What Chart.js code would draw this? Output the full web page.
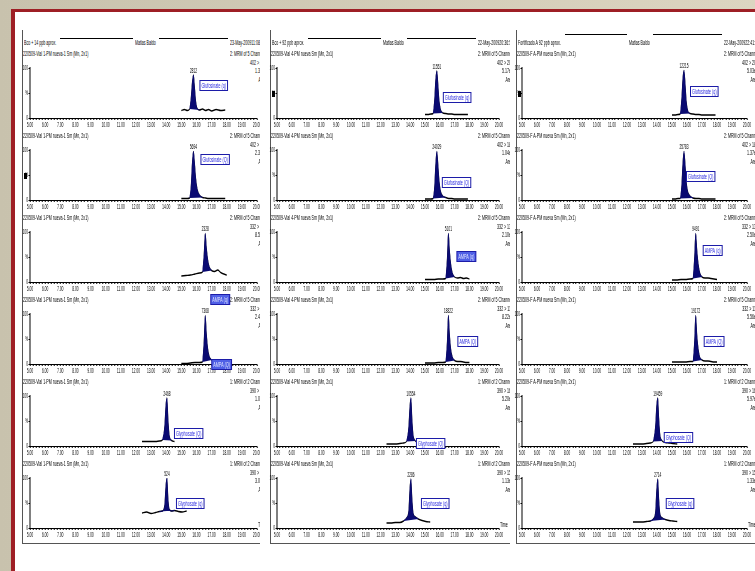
<!DOCTYPE html>
<html>
<head>
<meta charset="utf-8">
<title>Cromatogramas MRM - Glifosato, AMPA, Glufosinato</title>
<script src="https://cdn.jsdelivr.net/npm/chart.js@4.4.1/dist/chart.umd.min.js"></script>
<style>
    html, body { margin: 0; padding: 0; }
    body {
        width: 755px; height: 571px; overflow: hidden; position: relative;
        background: linear-gradient(90deg, #c8c2ad, #dcd5c1);
        font-family: "Liberation Sans", Arial, sans-serif;
    }
    #sheet {
        position: absolute; left: 11px; top: 9px; width: 760px; height: 580px;
        background: #fff; border-left: 4px solid #9e1f25; border-top: 3px solid #9e1f25;
    }
    .clip { position: absolute; top: 0; height: 571px; overflow: hidden; }
    .frame { position: absolute; border-left: 1px solid #555; border-bottom: 1px solid #555; }
    .txt {
        position: absolute; white-space: nowrap; font-size: 8px; line-height: 8px; color: #000;
        transform-origin: 0 0; transform: scaleX(0.45);
    }
    .txt.right { transform: scaleX(0.45) translateX(-100%); }
    .hline { position: absolute; height: 0; border-top: 1px solid #000; }
    .mark { position: absolute; width: 3px; height: 6px; background: #000; }
    canvas { position: absolute; }
</style>
</head>
<body>
<div id="sheet"></div>
<script>
const columnTitles = ['Bco + 14 ppb aprox.', 'Bco + 92 ppb aprox.', 'Fortificado A 92 ppb aprox.'];
const columnDates = ['23-May-200911:08:16', '22-May-200920:36:56', '22-May-200922:41:12'];
const sampleNames = ['220509-Vial 1-PM nueva-1 Sm (Mn, 2x1)', '220509-Vial 4-PM nueva Sm (Mn, 2x1)', '220509-F A-PM nueva Sm (Mn, 2x1)'];
const operatorName = 'Matias Baldo';

const compounds = ['Glufosinate (q)', 'Glufosinate (Q)', 'AMPA (q)', 'AMPA (Q)', 'Glyphosate (Q)', 'Glyphosate (q)'];
const functionNames = ['2: MRM of 5 Channels ES-', '2: MRM of 5 Channels ES-', '2: MRM of 5 Channels ES-',
    '2: MRM of 5 Channels ES-', '1: MRM of 2 Channels ES-', '1: MRM of 2 Channels ES-'];
const transitions = ['402 > 206', '402 > 180', '332 > 136', '332 > 110', '390 > 168', '390 > 150'];
const peakAreas = [
    ['1.30e3', '5.17e3', '5.03e3'],
    ['2.34e3', '1.04e4', '1.37e4'],
    ['8.58e2', '2.10e3', '2.50e3'],
    ['2.47e3', '8.22e3', '5.56e3'],
    ['1.02e3', '5.20e3', '5.97e3'],
    ['3.00e2', '1.13e3', '1.33e3']
];
const peakHeights = [
    [2812, 11551, 12215],
    [5694, 24029, 25783],
    [2328, 5101, 9491],
    [7368, 18822, 19172],
    [2468, 10554, 19459],
    [524, 2286, 2714]
];

// retention time (min) of the trace points
const timeGluf = [15.00, 15.20, 15.40, 15.55, 15.65, 15.72, 15.80, 15.88, 15.95, 16.05, 16.20, 16.40, 16.60, 16.80, 17.00, 17.30, 17.60, 17.90];
const timeAmpa = [15.00, 15.30, 15.60, 15.90, 16.20, 16.40, 16.50, 16.58, 16.66, 16.75, 16.85, 17.00, 17.20, 17.40, 17.60, 17.80, 18.00];
const timeGly = [12.40, 12.70, 13.00, 13.30, 13.55, 13.75, 13.90, 13.98, 14.05, 14.12, 14.20, 14.35, 14.55, 14.80, 15.05, 15.35];

// relative intensity (%) per screen
const glufqVial1 = [15, 17, 15, 18, 42, 70, 86, 60, 34, 19, 16, 18, 15, 17, 14, 17, 15, 16];
const glufqVial4 = [7, 7, 8, 9, 38, 76, 94, 66, 36, 17, 10, 9, 8, 8, 7, 7, 7, 7];
const glufqFortA = [6, 6, 7, 8, 40, 78, 95, 68, 35, 15, 9, 8, 7, 7, 6, 6, 6, 6];
const glufQVial1 = [3, 3, 3, 4, 30, 72, 97, 72, 44, 22, 10, 5, 4, 3, 3, 3, 3, 3];
const glufQVial4 = [2, 2, 2, 3, 28, 70, 97, 70, 40, 18, 8, 5, 3, 3, 2, 2, 2, 2];
const glufQFortA = [2, 2, 3, 3, 30, 72, 97, 70, 38, 17, 8, 4, 3, 3, 2, 2, 2, 2];
const ampaqVial1 = [12, 13, 14, 16, 18, 20, 55, 97, 68, 44, 30, 23, 21, 24, 19, 16, 14];
const ampaqVial4 = [5, 5, 5, 6, 6, 7, 45, 97, 62, 34, 18, 10, 8, 9, 7, 8, 6];
const ampaqFortA = [4, 4, 5, 5, 6, 7, 48, 97, 64, 36, 19, 10, 8, 8, 7, 6, 5];
const ampaQVial1 = [1, 1, 2, 3, 3, 4, 45, 97, 60, 30, 15, 8, 5, 4, 3, 3, 2];
const ampaQVial4 = [2, 2, 2, 3, 3, 4, 42, 97, 58, 28, 14, 7, 5, 5, 4, 3, 3];
const ampaQFortA = [4, 4, 4, 4, 5, 5, 44, 97, 58, 30, 14, 8, 6, 6, 5, 4, 4];
const glyQVial1 = [9, 9, 9, 9, 10, 12, 40, 82, 96, 55, 22, 11, 9, null, null, null];
const glyQVial4 = [4, 4, 4, 5, 6, 9, 38, 80, 96, 55, 22, 10, 7, 5, 5, 4];
const glyQFortA = [4, 4, 4, 5, 6, 9, 40, 82, 96, 56, 22, 10, 7, 6, 5, 4];
const glyqVial1 = [30, 32, 29, 31, 33, 34, 46, 85, 100, 60, 38, 34, 35, 33, 32, 34];
const glyqVial4 = [10, 10, 11, 11, 14, 20, 34, 80, 98, 60, 30, 22, 18, 15, 13, 12];
const glyqFortA = [12, 12, 12, 13, 14, 18, 32, 78, 98, 58, 28, 20, 17, 15, 14, 13];

const rowTimes = [timeGluf, timeGluf, timeAmpa, timeAmpa, timeGly, timeGly];
const intensities = [
    [glufqVial1, glufqVial4, glufqFortA],
    [glufQVial1, glufQVial4, glufQFortA],
    [ampaqVial1, ampaqVial4, ampaqFortA],
    [ampaQVial1, ampaQVial4, ampaQFortA],
    [glyQVial1, glyQVial4, glyQFortA],
    [glyqVial1, glyqVial4, glyqFortA]
];
// integration limits of each peak (min)
const peakWindows = [[15.55, 16.20], [15.55, 16.40], [16.40, 17.00], [16.40, 17.00], [13.75, 14.35], [13.55, 14.55]];

const xMajorTicks = [5.00, 6.00, 7.00, 8.00, 9.00, 10.00, 11.00, 12.00, 13.00, 14.00, 15.00, 16.00, 17.00, 18.00, 19.00, 20.00];
const yTickValues = [0, 50, 100];
const yTickLabels = ['0', '%', '100'];

// ---------- layout ----------
const SX = 2;            // canvases are drawn twice as wide and squeezed, like the screenshot
const FONT = '"Liberation Sans", Arial, sans-serif';
const cols = [
    { clipL: 14, clipR: 260, frameL: 22, axisX: 30, plotW: 227, headLineY: 38, infoR: 266 },
    { clipL: 262, clipR: 510, frameL: 270, axisX: 277, plotW: 222, headLineY: 38, infoR: 513 },
    { clipL: 511, clipR: 755, frameL: 516, axisX: 522, plotW: 225, headLineY: 34, infoR: 758 }
];
const rowAxisY = [118, 200, 282, 364, 446, 528];
const HEADER_Y = 43, FRAME_TOP = 30, FRAME_BOTTOM = 543;
const PLOT_H = 50, TOP_PAD = 8, X_AXIS_H = 11, BOTTOM_PAD = 14, Y_AXIS_W = 10, RIGHT_PAD = 15;
// compound box: [px right of apex, top relative to the time axis]
const boxOffsets = [
    [[6, -38], [6, -26], [6, -32]],
    [[7, -46], [5, -23], [2, -29]],
    [[5, 12], [8, -31], [7, -37]],
    [[6, -5], [9, -28], [8, -28]],
    [[7, -18], [5, -8], [6, -14]],
    [[9, -30], [10, -30], [8, -30]]
];
const filledBoxes = ['2-0', '3-0', '2-1'];
const percentMarks = ['1-0', '0-1', '0-2'];

function addText(parent, str, x, y, right) {
    const d = document.createElement('div');
    d.className = right ? 'txt right' : 'txt';
    d.textContent = str;
    d.style.left = x + 'px';
    d.style.top = (y - 4) + 'px';
    parent.appendChild(d);
    return d;
}

function hLine(parent, x0, x1, y) {
    const d = document.createElement('div');
    d.className = 'hline';
    d.style.left = x0 + 'px';
    d.style.top = y + 'px';
    d.style.width = (x1 - x0) + 'px';
    parent.appendChild(d);
}

// peak height above the apex and the compound name box
const peakLabels = {
    id: 'peakLabels',
    afterDraw(chart, args, opts) {
        const { ctx, scales: { x, y } } = chart;
        const pts = chart.data.datasets[0].data;
        let top = pts[0];
        pts.forEach(p => { if (p.y > top.y) top = p; });
        const px = x.getPixelForValue(top.x);
        const py = y.getPixelForValue(top.y);
        ctx.save();
        ctx.fillStyle = '#000';
        ctx.font = '6.5px ' + FONT;
        ctx.textAlign = 'center';
        ctx.textBaseline = 'bottom';
        ctx.fillText(String(opts.height), px, py - 1);

        ctx.font = '7.5px ' + FONT;
        const tw = ctx.measureText(opts.name).width;
        const bx = px + opts.dx * SX;
        const by = y.getPixelForValue(0) + opts.dy;
        const bw = tw + 4 * SX, bh = 11;
        ctx.fillStyle = '#1c1ca8';
        ctx.fillRect(bx, by, bw, bh);
        ctx.fillStyle = opts.filled ? '#5060e6' : '#fff';
        ctx.fillRect(bx + SX, by + 1, bw - 2 * SX, bh - 2);
        ctx.fillStyle = opts.filled ? '#e4e8ff' : '#2a2ae0';
        ctx.textAlign = 'left';
        ctx.textBaseline = 'middle';
        ctx.fillText(opts.name, bx + 2 * SX, by + bh / 2 + 0.5);
        ctx.restore();
    }
};

function xTickList() {
    const list = [];
    xMajorTicks.forEach((v, i) => {
        list.push({ value: v });
        if (i < xMajorTicks.length - 1) {
            for (let k = 1; k < 5; k++) list.push({ value: v + k * (xMajorTicks[i + 1] - v) / 5 });
        }
    });
    return list;
}

function buildChart(cv, ri, ci) {
    const times = rowTimes[ri];
    const vals = intensities[ri][ci];
    const trace = times.map((t, i) => ({ x: t, y: vals[i] }));
    const [w0, w1] = peakWindows[ri];
    const peak = trace.filter(p => p.y !== null && p.x >= w0 - 1e-9 && p.x <= w1 + 1e-9);
    const base = [peak[0], peak[peak.length - 1]].map(p => ({ x: p.x, y: p.y }));
    const key = ri + '-' + ci;

    new Chart(cv, {
        type: 'line',
        data: {
            datasets: [
                { data: peak, borderColor: '#0a0a72', backgroundColor: '#0a0a72', borderWidth: 1,
                  fill: '+1', pointRadius: 0, cubicInterpolationMode: 'monotone' },
                { data: base, borderColor: 'transparent', borderWidth: 0, pointRadius: 0, fill: false },
                { data: trace, borderColor: '#000', borderWidth: 1.4, pointRadius: 0, fill: false,
                  cubicInterpolationMode: 'monotone' }
            ]
        },
        options: {
            responsive: false,
            animation: false,
            devicePixelRatio: 1,
            events: [],
            layout: { padding: { left: 0, right: RIGHT_PAD * SX, top: TOP_PAD, bottom: BOTTOM_PAD } },
            plugins: {
                legend: { display: false },
                tooltip: { enabled: false },
                peakLabels: {
                    height: peakHeights[ri][ci],
                    name: compounds[ri],
                    dx: boxOffsets[ri][ci][0],
                    dy: boxOffsets[ri][ci][1],
                    filled: filledBoxes.includes(key)
                }
            },
            scales: {
                x: {
                    type: 'linear', min: 5, max: 20,
                    afterBuildTicks: s => { s.ticks = xTickList(); },
                    afterFit: s => { s.height = X_AXIS_H; },
                    ticks: {
                        autoSkip: false, maxRotation: 0, minRotation: 0, padding: 1, color: '#000',
                        font: { size: 6.5, family: FONT },
                        callback: v => xMajorTicks.some(m => Math.abs(m - v) < 1e-6) ? v.toFixed(2) : ''
                    },
                    grid: { drawOnChartArea: false, drawTicks: true, tickLength: 2, tickWidth: 2, tickColor: '#000' },
                    border: { display: true, color: '#000', width: 1 }
                },
                y: {
                    min: 0, max: 100,
                    afterBuildTicks: s => { s.ticks = yTickValues.map(v => ({ value: v })); },
                    afterFit: s => { s.width = Y_AXIS_W * SX; },
                    ticks: {
                        padding: 1, color: '#000', font: { size: 6.5, family: FONT },
                        callback: v => yTickLabels[yTickValues.indexOf(v)]
                    },
                    grid: { drawOnChartArea: false, tickLength: 3, tickWidth: 1, tickColor: '#000' },
                    border: { display: true, color: '#000', width: 2, dash: [1, 2] }
                }
            }
        },
        plugins: [peakLabels]
    });
}

cols.forEach((c, ci) => {
    const clip = document.createElement('div');
    clip.className = 'clip';
    clip.style.left = c.clipL + 'px';
    clip.style.width = (c.clipR - c.clipL) + 'px';
    document.body.appendChild(clip);
    const X = v => v - c.clipL;

    const frame = document.createElement('div');
    frame.className = 'frame';
    frame.style.left = X(c.frameL) + 'px';
    frame.style.top = FRAME_TOP + 'px';
    frame.style.width = '300px';
    frame.style.height = (FRAME_BOTTOM - FRAME_TOP) + 'px';
    clip.appendChild(frame);

    // header
    const title = addText(clip, columnTitles[ci], X(c.frameL + 2), HEADER_Y);
    const titleRight = title.getBoundingClientRect().right;
    hLine(clip, X(titleRight + 4), X(c.frameL + 111), c.headLineY);
    addText(clip, operatorName, X(c.frameL + 113), HEADER_Y);
    hLine(clip, X(c.frameL + 137), X(c.frameL + 206), c.headLineY);
    addText(clip, columnDates[ci], X(c.frameL + 208), HEADER_Y);

    rowAxisY.forEach((ay, ri) => {
        addText(clip, sampleNames[ci], X(c.frameL + 1), ay - 64);
        addText(clip, functionNames[ri], X(c.frameL + 208), ay - 64);
        addText(clip, transitions[ri], X(c.infoR), ay - 55, true);
        addText(clip, peakAreas[ri][ci], X(c.infoR), ay - 47, true);
        addText(clip, 'Area', X(c.infoR), ay - 38, true);

        const cv = document.createElement('canvas');
        const dispW = Y_AXIS_W + c.plotW + RIGHT_PAD;
        const dispH = TOP_PAD + PLOT_H + X_AXIS_H + BOTTOM_PAD;
        cv.width = dispW * SX;
        cv.height = dispH;
        cv.style.width = dispW + 'px';
        cv.style.height = dispH + 'px';
        cv.style.left = X(c.axisX - Y_AXIS_W) + 'px';
        cv.style.top = (ay - PLOT_H - TOP_PAD) + 'px';
        clip.appendChild(cv);
        buildChart(cv, ri, ci);

        if (percentMarks.includes(ri + '-' + ci)) {
            const m = document.createElement('div');
            m.className = 'mark';
            m.style.left = X(c.frameL + 2) + 'px';
            m.style.top = (ay - 27) + 'px';
            clip.appendChild(m);
        }
    });

    addText(clip, 'Time', X(c.axisX + c.plotW + 1), rowAxisY[5] - 3);
});
</script>
</body>
</html>
